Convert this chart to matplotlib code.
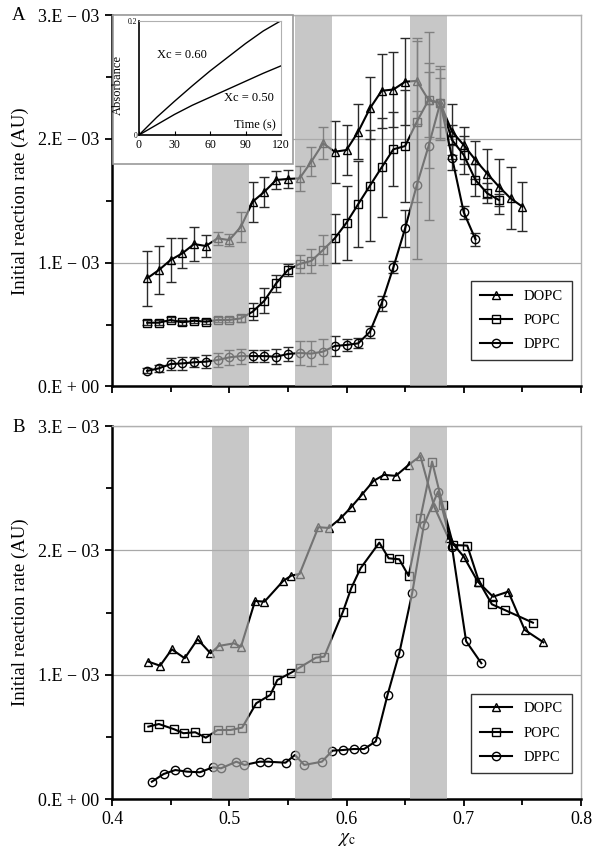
import matplotlib
matplotlib.use('Agg')
import matplotlib.pyplot as plt
from matplotlib.lines import Line2D
from matplotlib.patches import Rectangle
from matplotlib.ticker import MultipleLocator

plt.rcParams['font.family'] = ['Liberation Serif', 'DejaVu Serif']
plt.rcParams['mathtext.fontset'] = 'stix'

# --- panel A: mean rates (units of 1E-03) with error bars ---
a_dopc_x = [0.43, 0.44, 0.45, 0.46, 0.47, 0.48, 0.49, 0.50, 0.51, 0.52,
            0.53, 0.54, 0.55, 0.56, 0.57, 0.58, 0.59, 0.60, 0.61, 0.62,
            0.63, 0.64, 0.65, 0.66, 0.67, 0.68, 0.69, 0.70, 0.71, 0.72,
            0.73, 0.74, 0.75]
a_dopc_y = [0.874, 0.941, 1.022, 1.076, 1.151, 1.135, 1.197, 1.183, 1.291, 1.493,
            1.574, 1.669, 1.677, 1.682, 1.817, 1.965, 1.897, 1.911, 2.059, 2.248,
            2.390, 2.400, 2.463, 2.470, 2.315, 2.289, 2.060, 1.951, 1.830, 1.720,
            1.615, 1.520, 1.453]
a_dopc_err = [0.22, 0.19, 0.18, 0.12, 0.14, 0.09, 0.05, 0.05, 0.12, 0.16,
              0.12, 0.07, 0.07, 0.10, 0.12, 0.13, 0.25, 0.20, 0.22, 0.25,
              0.30, 0.30, 0.35, 0.35, 0.30, 0.28, 0.22, 0.15, 0.15, 0.20,
              0.22, 0.25, 0.20]

a_popc_x = [0.43, 0.44, 0.45, 0.46, 0.47, 0.48, 0.49, 0.50, 0.51, 0.52,
            0.53, 0.54, 0.55, 0.56, 0.57, 0.58, 0.59, 0.60, 0.61, 0.62,
            0.63, 0.64, 0.65, 0.66, 0.67, 0.68, 0.69, 0.70, 0.71, 0.72,
            0.73]
a_popc_y = [0.515, 0.515, 0.537, 0.518, 0.531, 0.523, 0.537, 0.537, 0.550, 0.604,
            0.693, 0.833, 0.941, 0.990, 1.014, 1.103, 1.197, 1.323, 1.474, 1.623,
            1.771, 1.917, 1.943, 2.140, 2.315, 2.293, 1.992, 1.871, 1.668, 1.561,
            1.507]
a_popc_err = [0.02, 0.02, 0.02, 0.02, 0.02, 0.02, 0.02, 0.02, 0.03, 0.07,
              0.10, 0.07, 0.05, 0.07, 0.10, 0.12, 0.20, 0.30, 0.35, 0.45,
              0.40, 0.30, 0.45, 0.65, 0.55, 0.30, 0.12, 0.15, 0.13, 0.08,
              0.05]

a_dppc_x = [0.43, 0.44, 0.45, 0.46, 0.47, 0.48, 0.49, 0.50, 0.51, 0.52,
            0.53, 0.54, 0.55, 0.56, 0.57, 0.58, 0.59, 0.60, 0.61, 0.62,
            0.63, 0.64, 0.65, 0.66, 0.67, 0.68, 0.69, 0.70, 0.71]
a_dppc_y = [0.125, 0.146, 0.181, 0.186, 0.195, 0.200, 0.213, 0.235, 0.245, 0.245,
            0.245, 0.240, 0.262, 0.270, 0.265, 0.281, 0.327, 0.335, 0.348, 0.442,
            0.672, 0.963, 1.278, 1.628, 1.943, 2.293, 1.850, 1.407, 1.189]
a_dppc_err = [0.02, 0.03, 0.05, 0.05, 0.04, 0.05, 0.06, 0.06, 0.06, 0.05,
              0.05, 0.06, 0.06, 0.10, 0.10, 0.10, 0.08, 0.05, 0.04, 0.05,
              0.06, 0.05, 0.15, 0.60, 0.60, 0.20, 0.10, 0.05, 0.05]

# --- panel B: single runs (units of 1E-03) ---
b_dopc_x = [0.431, 0.441, 0.451, 0.462, 0.473, 0.484, 0.491, 0.504, 0.510, 0.522,
            0.530, 0.546, 0.553, 0.560, 0.576, 0.585, 0.595, 0.604, 0.613, 0.623,
            0.632, 0.642, 0.653, 0.663, 0.675, 0.687, 0.700, 0.712, 0.725, 0.738,
            0.752, 0.768]
b_dopc_y = [1.105, 1.072, 1.204, 1.132, 1.285, 1.172, 1.231, 1.252, 1.225, 1.593,
            1.587, 1.754, 1.797, 1.810, 2.186, 2.180, 2.258, 2.347, 2.446, 2.558,
            2.607, 2.599, 2.687, 2.759, 2.347, 2.097, 1.949, 1.748, 1.627, 1.668,
            1.360, 1.260]

b_popc_x = [0.431, 0.440, 0.453, 0.461, 0.471, 0.480, 0.490, 0.501, 0.511, 0.523,
            0.535, 0.541, 0.553, 0.560, 0.574, 0.581, 0.597, 0.604, 0.612, 0.628,
            0.636, 0.645, 0.653, 0.663, 0.673, 0.682, 0.691, 0.703, 0.713, 0.724,
            0.735, 0.759]
b_popc_y = [0.582, 0.603, 0.561, 0.529, 0.537, 0.493, 0.555, 0.555, 0.574, 0.770,
            0.837, 0.957, 1.017, 1.057, 1.137, 1.145, 1.507, 1.695, 1.856, 2.062,
            1.936, 1.928, 1.794, 2.258, 2.714, 2.365, 2.043, 2.038, 1.748, 1.566,
            1.520, 1.418]

b_dppc_x = [0.434, 0.444, 0.454, 0.464, 0.475, 0.486, 0.493, 0.506, 0.513, 0.526,
            0.533, 0.548, 0.556, 0.564, 0.579, 0.588, 0.597, 0.606, 0.615, 0.625,
            0.635, 0.645, 0.656, 0.666, 0.678, 0.690, 0.702, 0.715]
b_dppc_y = [0.139, 0.201, 0.233, 0.220, 0.215, 0.255, 0.247, 0.300, 0.274, 0.300,
            0.300, 0.292, 0.354, 0.274, 0.300, 0.389, 0.394, 0.402, 0.402, 0.464,
            0.837, 1.172, 1.655, 2.204, 2.472, 2.025, 1.269, 1.092]

# shaded composition ranges
bands = [(0.485, 0.517), (0.556, 0.588), (0.654, 0.686)]

# --- inset: absorbance traces ---
inset_t = [0, 15, 30, 45, 60, 75, 90, 105, 120]
inset_060 = [0.0, 0.031, 0.059, 0.086, 0.112, 0.136, 0.160, 0.182, 0.200]
inset_050 = [0.0, 0.018, 0.036, 0.052, 0.066, 0.080, 0.094, 0.108, 0.121]

series = ['DOPC', 'POPC', 'DPPC']
markers = ['^', 's', 'o']
yticks = [0, 1e-3, 2e-3, 3e-3]
ytick_labels = ['0.E + 00', '1.E \u2212 03', '2.E \u2212 03', '3.E \u2212 03']
xticks = [0.4, 0.5, 0.6, 0.7, 0.8]

W, H = 600, 858
fig = plt.figure(figsize=(W / 100, H / 100), dpi=100)
ax_a = fig.add_axes([112 / W, 1 - 386.4 / H, 469 / W, 371.1 / H])
ax_b = fig.add_axes([112 / W, 1 - 799 / H, 469 / W, 373 / H])

line_kw = dict(color='black', lw=1.5, mfc='none', mec='black', ms=6, mew=1.0)

a_data = [(a_dopc_x, a_dopc_y, a_dopc_err),
          (a_popc_x, a_popc_y, a_popc_err),
          (a_dppc_x, a_dppc_y, a_dppc_err)]
for (x, y, e), m in zip(a_data, markers):
    ax_a.errorbar(x, [v * 1e-3 for v in y], yerr=[v * 1e-3 for v in e],
                  marker=m, ecolor='#2a2a2a', elinewidth=1, capsize=3.5,
                  capthick=1, zorder=3, **line_kw)

b_data = [(b_dopc_x, b_dopc_y), (b_popc_x, b_popc_y), (b_dppc_x, b_dppc_y)]
for (x, y), m in zip(b_data, markers):
    ax_b.plot(x, [v * 1e-3 for v in y], marker=m, zorder=3, **line_kw)

for ax, label_x in [(ax_a, False), (ax_b, True)]:
    for x0, x1 in bands:
        ax.axvspan(x0, x1, color='#acacac', alpha=0.67, lw=0, zorder=4)
    ax.set_xlim(0.4, 0.8)
    ax.set_ylim(0, 3e-3)
    ax.set_yticks(yticks, labels=ytick_labels)
    ax.yaxis.set_minor_locator(MultipleLocator(0.5e-3))
    ax.set_xticks(xticks)
    ax.xaxis.set_minor_locator(MultipleLocator(0.05))
    if label_x:
        ax.set_xticklabels(['0.4', '0.5', '0.6', '0.7', '0.8'])
    else:
        ax.set_xticklabels([])
    ax.grid(axis='y', which='major', color='#a8a8a8', lw=0.9, zorder=1)
    ax.set_axisbelow(True)
    ax.tick_params(which='major', direction='out', length=5, width=1.3,
                   labelsize=13, pad=4)
    ax.tick_params(which='minor', direction='out', length=4, width=1.3)
    for s in ['left', 'bottom']:
        ax.spines[s].set_linewidth(1.8)
    for s in ['top', 'right']:
        ax.spines[s].set_color('#b0b0b0')
        ax.spines[s].set_linewidth(1.0)
    handles = [Line2D([], [], marker=m, label=n, **line_kw)
               for m, n in zip(markers, series)]
    leg = ax.legend(handles=handles, loc='lower left',
                    bbox_to_anchor=(0.766, 0.071), borderaxespad=0,
                    fontsize=10.5, frameon=True, fancybox=False,
                    edgecolor='black', handlelength=2.2, labelspacing=0.75,
                    borderpad=0.6)
    leg.get_frame().set_linewidth(1.0)
    leg.set_zorder(6)

ax_b.set_xlabel(r'$\chi_{\mathrm{c}}$', fontsize=14, labelpad=2)

for yc in [(15.3 + 386.4) / 2, (426 + 799) / 2]:
    fig.text(20 / W, 1 - yc / H, 'Initial reaction rate (AU)', rotation=90,
             ha='center', va='center', fontsize=13.5)
fig.text(12 / W, 1 - 15 / H, 'A', ha='left', va='center', fontsize=13.5)
fig.text(12 / W, 1 - 428 / H, 'B', ha='left', va='center', fontsize=13.5)

# inset frame and axes
fig.patches.append(Rectangle((113 / W, 1 - 164 / H), 180 / W, 149 / H,
                             transform=fig.transFigure, facecolor='white',
                             edgecolor='#999999', lw=1.2, zorder=2))
ax_in = fig.add_axes([139 / W, 1 - 135 / H, 142 / W, 114.3 / H], zorder=3)
ax_in.plot(inset_t, inset_060, color='black', lw=1.0)
ax_in.plot(inset_t, inset_050, color='black', lw=1.0)
ax_in.set_xlim(0, 120)
ax_in.set_ylim(0, 0.2)
ax_in.set_xticks([0, 30, 60, 90, 120])
ax_in.set_yticks([0, 0.2], labels=['0', '0.2'])
ax_in.tick_params(axis='x', direction='in', length=3, labelsize=8.5, pad=3)
ax_in.tick_params(axis='y', length=0, labelsize=5.5, pad=1)
ax_in.spines['left'].set_linewidth(1.2)
ax_in.spines['bottom'].set_linewidth(1.2)
for s in ['top', 'right']:
    ax_in.spines[s].set_color('#b0b0b0')
ax_in.set_ylabel('Absorbance', fontsize=9)
ax_in.yaxis.set_label_coords(-0.11, 0.44)
ax_in.text(0.96, 0.03, 'Time (s)', transform=ax_in.transAxes, ha='right',
           va='bottom', fontsize=9)
ax_in.text(36, 0.14, 'Xc = 0.60', ha='center', va='center', fontsize=9)
ax_in.text(93, 0.065, 'Xc = 0.50', ha='center', va='center', fontsize=9)

fig.savefig('out.png', dpi=100)
